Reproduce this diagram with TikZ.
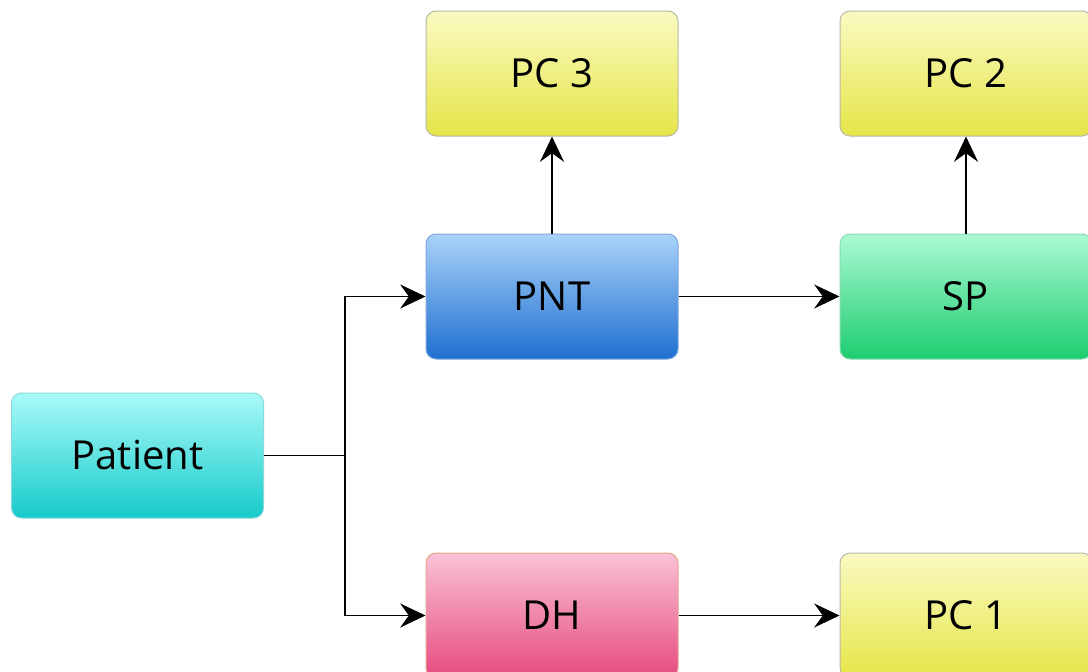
\documentclass[tikz,border=0pt]{standalone}
\usepackage{fontspec}
\setmainfont{Open Sans}
\usetikzlibrary{arrows.meta}
\definecolor{ylTop}{HTML}{FAFAC2}
\definecolor{ylBot}{HTML}{E5E548}
\definecolor{ylLine}{HTML}{B8B8A8}
\definecolor{blTop}{HTML}{A9D2FA}
\definecolor{blBot}{HTML}{1F6FD0}
\definecolor{blLine}{HTML}{7FA8D8}
\definecolor{grTop}{HTML}{AAF9D2}
\definecolor{grBot}{HTML}{1ECD70}
\definecolor{grLine}{HTML}{8ADBB0}
\definecolor{cyTop}{HTML}{AAFAFA}
\definecolor{cyBot}{HTML}{16CACA}
\definecolor{cyLine}{HTML}{88DADA}
\definecolor{pkTop}{HTML}{FAC2D6}
\definecolor{pkBot}{HTML}{E64A7E}
\definecolor{pkLine}{HTML}{E0A888}
\tikzset{
  box/.style={rounded corners=7.5pt, minimum width=189pt, minimum height=93.75pt,
    line width=0.75pt, inner sep=0pt, font=\fontsize{30}{36}\selectfont},
  yellowbox/.style={box, draw=ylLine, top color=ylTop, bottom color=ylBot},
  bluebox/.style={box, draw=blLine, top color=blTop, bottom color=blBot},
  greenbox/.style={box, draw=grLine, top color=grTop, bottom color=grBot},
  cyanbox/.style={box, draw=cyLine, top color=cyTop, bottom color=cyBot},
  pinkbox/.style={box, draw=pkLine, top color=pkTop, bottom color=pkBot},
  link/.style={line width=1.1pt, draw=black,
    -{Stealth[length=19pt, width=18pt, inset=6.5pt]}},
  plainlink/.style={line width=1.1pt, draw=black}
}
\begin{document}
\begin{tikzpicture}[x=0.75pt, y=-0.75pt]
\useasboundingbox (0,0) rectangle (1088,671);
\clip (0,0) rectangle (1088,671);
% boxes
\node[yellowbox] (pc3) at (552,73.5) {PC 3};
\node[yellowbox] (pc2) at (966,73.5) {PC 2};
\node[bluebox] (pnt) at (552,296.5) {PNT};
\node[greenbox] (sp) at (966,296.5) {SP};
\node[cyanbox] (patient) at (137.5,455.5) {Patient};
\node[pinkbox] (dh) at (552,615.5) {DH};
\node[yellowbox] (pc1) at (966,615.5) {PC 1};
% branch point
\coordinate (split) at (345,455.5);
% connectors
\draw[plainlink] (patient.east) -- (split);
\draw[link] (split) |- (pnt.west);
\draw[link] (split) |- (dh.west);
\draw[link] (pnt.north) -- (pc3.south);
\draw[link] (sp.north) -- (pc2.south);
\draw[link] (pnt.east) -- (sp.west);
\draw[link] (dh.east) -- (pc1.west);
\end{tikzpicture}
\end{document}
